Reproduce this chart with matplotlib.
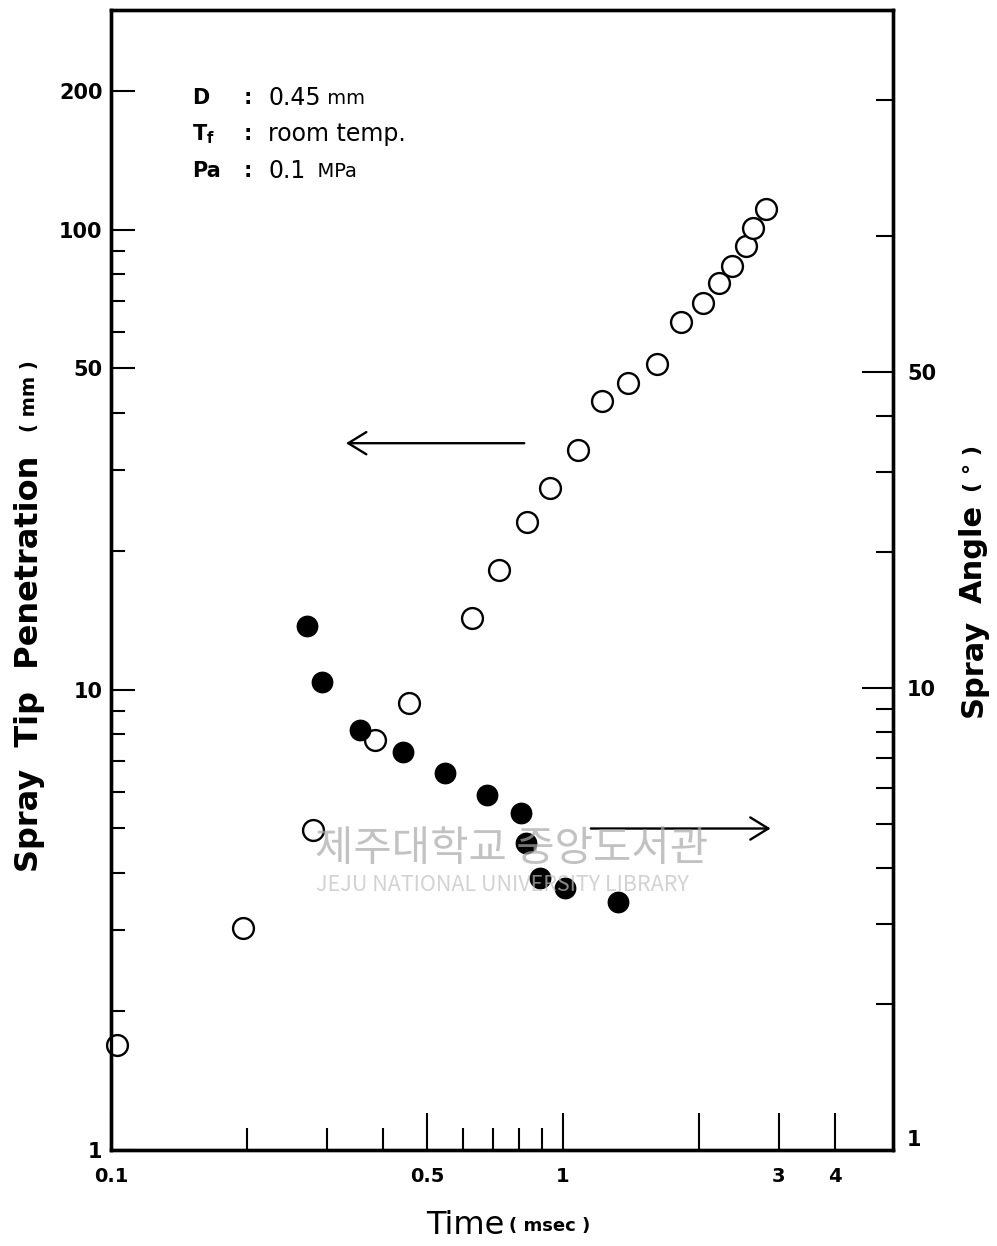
import numpy as np
import matplotlib
matplotlib.use("Agg")
import matplotlib.pyplot as plt
from matplotlib.ticker import FixedLocator, FixedFormatter, NullFormatter

# spray tip penetration (open circles, left axis)
time_pen = [0.103, 0.196, 0.280, 0.384, 0.456, 0.629, 0.722, 0.832, 0.936, 1.079,
            1.22, 1.39, 1.61, 1.82, 2.04, 2.21, 2.37, 2.54, 2.63, 2.81]
penetration = [1.69, 3.04, 4.96, 7.79, 9.37, 14.3, 18.2, 23.2, 27.5, 33.2,
               42.5, 46.5, 51.1, 63.1, 69.4, 76.7, 83.5, 92.3, 101, 111]

# spray angle (filled circles, right axis)
time_ang = [0.271, 0.293, 0.356, 0.443, 0.548, 0.679, 0.807, 0.828, 0.889, 1.01, 1.32]
angle = [13.7, 10.3, 8.07, 7.22, 6.49, 5.80, 5.29, 4.54, 3.80, 3.61, 3.36]

x_major = [0.1, 0.5, 1, 2, 3, 4]
x_major_lbl = ["0.1", "0.5", "1", "", "3", "4"]
x_minor = [0.2, 0.3, 0.4, 0.6, 0.7, 0.8, 0.9]
yl_major = [1, 10, 50, 100, 200]
yl_minor = [2, 3, 4, 5, 6, 7, 8, 9, 20, 30, 40, 60, 70, 80, 90]
yr_major = [10, 50]
yr_minor = [2, 3, 4, 5, 6, 7, 8, 9, 20, 30, 40, 100, 200]

plt.rcParams['font.family'] = ['DejaVu Sans']
W, H = 997, 1246
fig = plt.figure(figsize=(W / 100, H / 100), dpi=100)
ax = fig.add_axes([111 / W, 1 - 1150 / H, (893 - 111) / W, 1140 / H])
ax2 = ax.twinx()

ax.set_xscale("log")
ax.set_yscale("log")
ax2.set_yscale("log")
ax.set_xlim(0.1, 5.37)
ax.set_ylim(1, 300)
ax2.set_ylim(0.95, 316)

ax.plot(time_pen, penetration, "o", mfc="white", mec="black", ms=15, mew=1.7,
        clip_on=False, zorder=3)
ax2.plot(time_ang, angle, "o", mfc="black", mec="black", ms=14.5, mew=1.2,
         clip_on=False, zorder=3)

for a in (ax, ax2):
    for s in a.spines.values():
        s.set_linewidth(2.4)

ax.xaxis.set_major_locator(FixedLocator(x_major))
ax.xaxis.set_major_formatter(FixedFormatter(x_major_lbl))
ax.xaxis.set_minor_locator(FixedLocator(x_minor))
ax.xaxis.set_minor_formatter(NullFormatter())
ax.tick_params(axis="x", which="major", direction="in", length=27, width=1.5,
               pad=12, labelsize=14)
ax.tick_params(axis="x", which="minor", direction="in", length=16, width=1.5)

ax.yaxis.set_major_locator(FixedLocator(yl_major))
ax.yaxis.set_major_formatter(FixedFormatter([str(v) for v in yl_major]))
ax.yaxis.set_minor_locator(FixedLocator(yl_minor))
ax.yaxis.set_minor_formatter(NullFormatter())
ax.tick_params(axis="y", which="major", direction="in", length=17, width=1.5,
               pad=6, labelsize=15)
ax.tick_params(axis="y", which="minor", direction="in", length=10, width=1.5)

ax2.yaxis.set_major_locator(FixedLocator(yr_major))
ax2.yaxis.set_major_formatter(FixedFormatter([str(v) for v in yr_major]))
ax2.yaxis.set_minor_locator(FixedLocator(yr_minor))
ax2.yaxis.set_minor_formatter(NullFormatter())
ax2.tick_params(axis="y", which="major", direction="in", length=22, width=1.5,
                pad=10, labelsize=15)
ax2.tick_params(axis="y", which="minor", direction="in", length=12, width=1.5)
# the "1" on the right axis has no tick mark
ax2.text(1.017, 1, "1", transform=ax2.get_yaxis_transform(), va="center",
         ha="left", fontsize=15, fontweight="bold")

for lbl in ax.get_xticklabels() + ax.get_yticklabels() + ax2.get_yticklabels():
    lbl.set_fontweight("bold")

# condition notes
notes = [("D", "0.45", " mm"), ("T$_\\mathregular{f}$", "room temp.", ""),
         ("Pa", "0.1", "  MPa")]
for i, (k, v, u) in enumerate(notes):
    yy = 0.923 - i * 0.032
    ax.text(0.104, yy, k, transform=ax.transAxes, fontsize=15, fontweight="bold",
            va="center")
    ax.text(0.169, yy, ":", transform=ax.transAxes, fontsize=15, fontweight="bold",
            va="center")
    t = ax.text(0.201, yy, v, transform=ax.transAxes, fontsize=17, va="center")
    if u:
        ax.annotate(u, xy=(1, 0.45), xycoords=t, fontsize=14, va="center",
                    ha="left")

# arrows pointing to the axes
arrow = dict(arrowstyle="->,head_length=1.3,head_width=0.8", lw=1.7, color="black")
ax.annotate("", xy=(0.297, 0.620), xytext=(0.532, 0.620), xycoords="axes fraction",
            arrowprops=arrow)
ax.annotate("", xy=(0.847, 0.282), xytext=(0.610, 0.282), xycoords="axes fraction",
            arrowprops=arrow)

# axis titles
fig.text(30 / W, 1 - 872 / H, "Spray  Tip  Penetration", rotation=90, ha="center",
         va="bottom", fontsize=23, fontweight="bold")
fig.text(30 / W, 1 - 432 / H, "( mm )", rotation=90, ha="center", va="bottom",
         fontsize=14, fontweight="bold")
fig.text(973 / W, 1 - 717 / H, "Spray", rotation=90, ha="center",
         va="bottom", fontsize=22, fontweight="bold")
fig.text(973 / W, 1 - 603 / H, "Angle", rotation=90, ha="center",
         va="bottom", fontsize=22, fontweight="bold")
fig.text(973 / W, 1 - 492 / H, "( ° )", rotation=90, ha="center", va="bottom",
         fontsize=16, fontweight="bold")
fig.text(505 / W, 1 - 1226 / H, "Time", ha="right", va="center", fontsize=23)
fig.text(509 / W, 1 - 1226 / H, "( msec )", ha="left", va="center", fontsize=13,
         fontweight="bold")

# library watermark
fig.text(315 / W, 1 - 850 / H, "제주대학교 중앙도서관", ha="left", va="center",
         fontsize=30, color="#a8a8a8", alpha=0.7,
         family=["Noto Sans CJK KR", "DejaVu Sans"])
fig.text(316 / W, 1 - 885 / H, "JEJU NATIONAL UNIVERSITY LIBRARY", ha="left",
         va="center", fontsize=15.5, color="#c0c0c0", alpha=0.7,
         family=["Noto Sans CJK KR", "DejaVu Sans"])

fig.savefig("out.png", dpi=100)
